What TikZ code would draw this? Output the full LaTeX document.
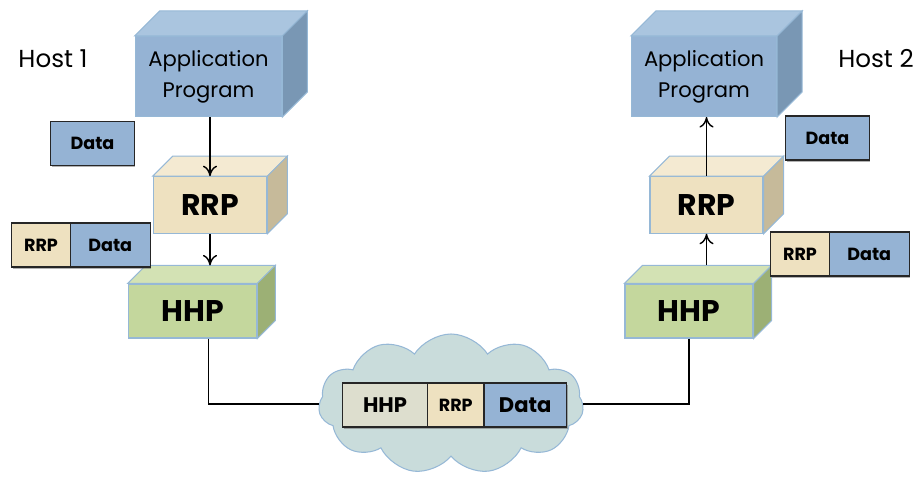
\documentclass[tikz,border=0pt]{standalone}
\usepackage{fontspec}
\setmainfont{Poppins}
\usetikzlibrary{positioning,shapes.symbols,shadows,arrows.meta}

\definecolor{blueFront}{RGB}{149,179,212}
\definecolor{blueTop}{RGB}{170,197,223}
\definecolor{blueSide}{RGB}{121,151,180}
\definecolor{tanFront}{RGB}{238,225,192}
\definecolor{tanTop}{RGB}{244,234,210}
\definecolor{tanSide}{RGB}{198,186,154}
\definecolor{greenFront}{RGB}{196,215,157}
\definecolor{greenTop}{RGB}{211,226,180}
\definecolor{greenSide}{RGB}{156,176,117}
\definecolor{hhpGray}{RGB}{221,222,206}
\definecolor{cloudFill}{RGB}{201,220,219}
\definecolor{edgeC}{RGB}{150,184,214}

\tikzset{
  front/.style={draw=edgeC, line width=0.6pt, inner sep=0pt, align=center},
  seg/.style={draw=black!85, line width=0.6pt, inner sep=0pt, outer sep=0pt,
    minimum height=0.88cm, font=\bfseries\fontsize{10}{12}\selectfont,
    drop shadow={shadow xshift=0.7pt, shadow yshift=-0.9pt, fill=black!60, opacity=0.5}},
  flow/.style={-{To[length=6pt,width=8pt]}, line width=0.8pt},
  wire/.style={line width=0.9pt},
  host/.style={font=\fontsize{14}{16}\selectfont},
}

% top and right face of a box: node, depth, top colour, side colour
\newcommand{\Faces}[4]{%
  \filldraw[fill=#3, draw=edgeC, line width=0.6pt] (#1.north west) -- ++(#2,#2)
    -- ([shift={(#2,#2)}]#1.north east) -- (#1.north east) -- cycle;
  \filldraw[fill=#4, draw=edgeC, line width=0.6pt] (#1.north east) -- ++(#2,#2)
    -- ([shift={(#2,#2)}]#1.south east) -- (#1.south east) -- cycle;
  \coordinate (#1-back) at ([yshift=#2]#1.north);
}

\begin{document}
\begin{tikzpicture}
\useasboundingbox (0,0) rectangle (18.34,9.56);

% hosts
\node[host] (host1) at (1.06,8.38) {Host 1};
\node[host] (host2) at (17.52,8.38) {Host 2};

% left stack
\node[front, fill=blueFront, minimum width=2.93cm, minimum height=1.6cm,
  font=\fontsize{12}{17.5}\selectfont] (appL) at (4.17,8.03) {Application\\Program};
\Faces{appL}{0.5cm}{blueTop}{blueSide}
\node[front, fill=tanFront, minimum width=2.27cm, minimum height=1.13cm,
  font=\bfseries\fontsize{17}{20}\selectfont] (rrpL) at (4.2,5.46) {RRP};
\Faces{rrpL}{0.4cm}{tanTop}{tanSide}
\node[front, fill=greenFront, minimum width=2.57cm, minimum height=1.08cm,
  font=\bfseries\fontsize{17}{20}\selectfont] (hhpL) at (3.85,3.34) {HHP};
\Faces{hhpL}{0.36cm}{greenTop}{greenSide}

% right stack
\node[front, fill=blueFront, minimum width=2.9cm, minimum height=1.6cm,
  font=\fontsize{12}{17.5}\selectfont] (appR) at (14.08,8.03) {Application\\Program};
\Faces{appR}{0.5cm}{blueTop}{blueSide}
\node[front, fill=tanFront, minimum width=2.26cm, minimum height=1.13cm,
  font=\bfseries\fontsize{17}{20}\selectfont] (rrpR) at (14.13,5.46) {RRP};
\Faces{rrpR}{0.4cm}{tanTop}{tanSide}
\node[front, fill=greenFront, minimum width=2.56cm, minimum height=1.08cm,
  font=\bfseries\fontsize{17}{20}\selectfont] (hhpR) at (13.78,3.34) {HHP};
\Faces{hhpR}{0.36cm}{greenTop}{greenSide}

% packets beside the stacks
\node[seg, fill=blueFront, minimum width=1.67cm] (dataL) at (1.85,6.69) {Data};
\node[seg, fill=tanFront, minimum width=1.17cm] (rrpSegL) at (0.82,4.66) {RRP};
\node[seg, fill=blueFront, minimum width=1.6cm, right=0pt of rrpSegL] (dataSegL) {Data};
\node[seg, fill=blueFront, minimum width=1.67cm] (dataR) at (16.55,6.8) {Data};
\node[seg, fill=tanFront, minimum width=1.17cm] (rrpSegR) at (16.0,4.48) {RRP};
\node[seg, fill=blueFront, minimum width=1.6cm, right=0pt of rrpSegR] (dataSegR) {Data};

% arrows
\draw[flow] (appL.south -| rrpL) -- (rrpL.north);
\draw[flow] (rrpL.south) -- (rrpL.south |- hhpL-back);
\draw[flow] (rrpR.north) -- (rrpR.north |- appR.south);
\draw[flow] (hhpR-back -| rrpR) -- (rrpR.south);

% network
\node[cloud, cloud puffs=11, cloud puff arc=115, aspect=1.9, fill=cloudFill, draw=edgeC,
  line width=0.6pt, minimum width=5.3cm, minimum height=2.8cm] (cloud) at (9.02,1.48) {};
\draw[wire] (hhpL.south -| appL) |- (cloud.west);
\draw[wire] (hhpR.south) |- (cloud.east);

\node[seg, fill=hhpGray, minimum width=1.7cm, font=\bfseries\fontsize{12}{14}\selectfont] (hhpSeg) at (7.7,1.46) {HHP};
\node[seg, fill=tanFront, minimum width=1.13cm, right=0pt of hhpSeg] (rrpSeg) {RRP};
\node[seg, fill=blueFront, minimum width=1.65cm, right=0pt of rrpSeg,
  font=\bfseries\fontsize{12}{14}\selectfont] (dataSeg) {Data};
\end{tikzpicture}
\end{document}
